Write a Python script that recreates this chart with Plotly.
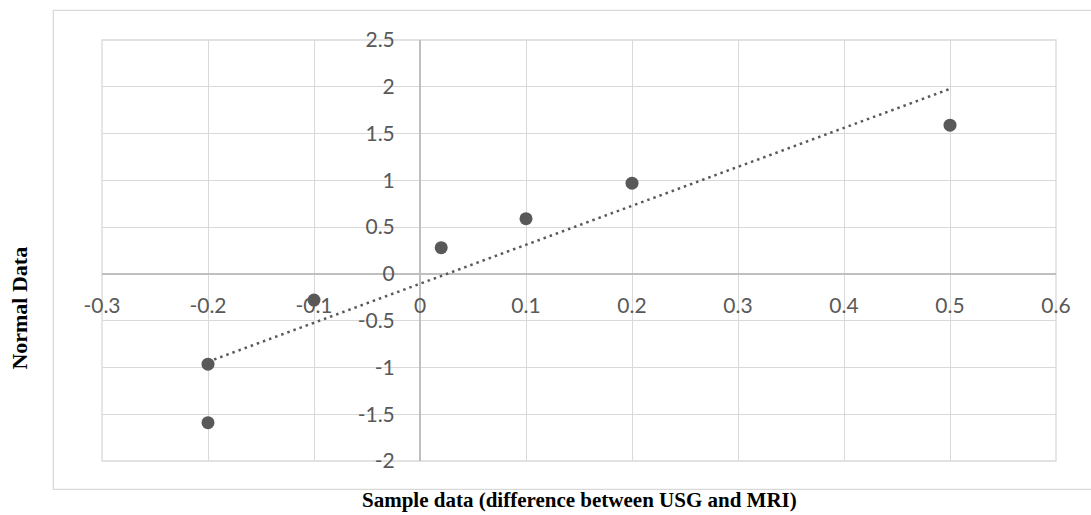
import numpy as np
import plotly.graph_objects as go

# Data
sample_x = [-0.2, -0.2, -0.1, 0.02, 0.1, 0.2, 0.5]
normal_y = [-1.59, -0.965, -0.28, 0.28, 0.59, 0.97, 1.59]

x_tickvals = [-0.3, -0.2, -0.1, 0.0, 0.1, 0.2, 0.3, 0.4, 0.5, 0.6]
x_ticktext = ["-0.3", "-0.2", "-0.1", "0", "0.1", "0.2", "0.3", "0.4", "0.5", "0.6"]
y_tickvals = [-2.0, -1.5, -1.0, -0.5, 0.0, 0.5, 1.0, 1.5, 2.0, 2.5]
y_ticktext = ["-2", "-1.5", "-1", "-0.5", "0", "0.5", "1", "1.5", "2", "2.5"]

x_title = "Sample data (difference between USG and MRI)"
y_title = "Normal Data"

# Linear trendline computed from the data
slope, intercept = np.polyfit(sample_x, normal_y, 1)
trend_x = [min(sample_x), max(sample_x)]
trend_y = [slope * v + intercept for v in trend_x]

GRAY = "#595959"
GRID = "#d9d9d9"

fig = go.Figure()
fig.add_trace(go.Scatter(
    x=trend_x, y=trend_y, mode="lines",
    line=dict(color=GRAY, width=2.5, dash="2.5px,4px"),
    hoverinfo="skip", showlegend=False,
))
fig.add_trace(go.Scatter(
    x=sample_x, y=normal_y, mode="markers",
    marker=dict(color=GRAY, size=13),
    showlegend=False,
))

xr = [-0.3, 0.6]
yr = [-2.0, 2.5]

fig.update_layout(
    width=1091, height=515,
    margin=dict(l=102, r=35, t=40, b=54),
    paper_bgcolor="white", plot_bgcolor="white",
    font=dict(family="Lato, Carlito, Calibri, sans-serif", size=21, color=GRAY),
    xaxis=dict(
        range=xr, tickvals=x_tickvals, ticktext=x_ticktext,
        showgrid=True, gridcolor=GRID, gridwidth=1.3,
        zeroline=True, zerolinecolor="#bfbfbf", zerolinewidth=1.5,
        showline=False, anchor="free",
        position=(0 - yr[0]) / (yr[1] - yr[0]),
        ticks="outside", ticklen=13, tickcolor="rgba(0,0,0,0)",
        tickfont=dict(size=21, color=GRAY),
    ),
    yaxis=dict(
        range=yr, tickvals=y_tickvals, ticktext=y_ticktext,
        showgrid=True, gridcolor=GRID, gridwidth=1.3,
        zeroline=True, zerolinecolor="#bfbfbf", zerolinewidth=1.5,
        showline=False, anchor="free",
        position=(0 - xr[0]) / (xr[1] - xr[0]),
        ticks="outside", ticklen=21, tickcolor="rgba(0,0,0,0)",
        tickfont=dict(size=21, color=GRAY),
    ),
    shapes=[
        dict(type="rect", xref="paper", yref="paper", x0=0, x1=1, y0=0, y1=1,
             line=dict(color=GRID, width=1.3), layer="below"),
        dict(type="rect", xref="paper", yref="paper", x0=-0.051, x1=1.06,
             y0=-0.0672, y1=1.0705, line=dict(color=GRID, width=1.3), layer="below"),
    ],
    annotations=[
        dict(text="<b>" + x_title + "</b>", xref="paper", yref="paper",
             x=0.5, y=-0.127, xanchor="center", yanchor="bottom", showarrow=False,
             font=dict(family="Liberation Serif, Times New Roman, serif", size=21, color="black")),
        dict(text="<b>" + y_title + "</b>", xref="paper", yref="paper",
             x=-0.0861, y=0.364, xanchor="center", yanchor="middle", showarrow=False,
             textangle=-90,
             font=dict(family="Liberation Serif, Times New Roman, serif", size=22, color="black")),
    ],
)

fig.write_html("out.html")
